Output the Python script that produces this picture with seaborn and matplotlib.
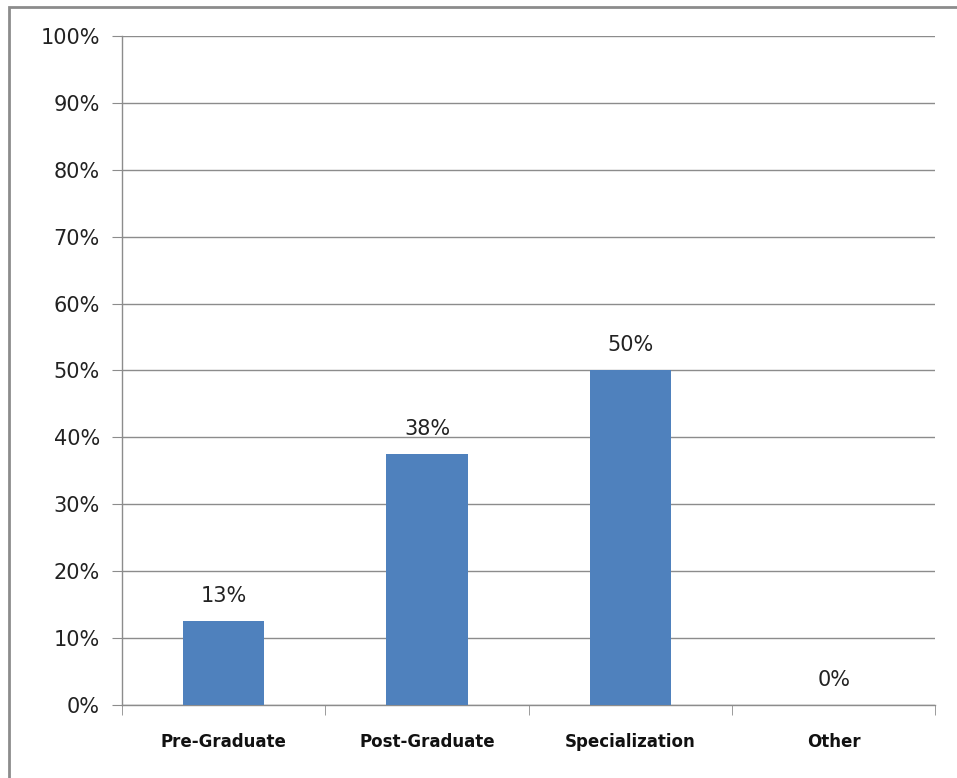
import pandas as pd
import seaborn as sns
import matplotlib.pyplot as plt
from matplotlib.patches import Rectangle
from matplotlib.ticker import PercentFormatter, MultipleLocator

# data
categories = ["Pre-Graduate", "Post-Graduate", "Specialization", "Other"]
shares = [12.5, 37.5, 50.0, 0.0]
labels = ["13%", "38%", "50%", "0%"]

df = pd.DataFrame({"Category": categories, "Share": shares})

sns.set_style("white")
plt.rcParams['font.family'] = ['DejaVu Sans']

fig = plt.figure(figsize=(9.57, 7.78), dpi=100)
ax = fig.add_axes([0.1275, 0.0938, 0.85, 0.86])

sns.barplot(data=df, x="Category", y="Share", color="#4F81BD", width=0.4,
            saturation=1, linewidth=0, ax=ax, zorder=3)

# percent labels over the bars
ax.bar_label(ax.containers[0], labels=labels, padding=11, fontsize=15, color="#222222")

ax.set_ylim(0, 100)
ax.set_xlim(-0.5, 3.5)
ax.yaxis.set_major_locator(MultipleLocator(10))
ax.yaxis.set_major_formatter(PercentFormatter(decimals=0))
ax.grid(axis="y", color="#8c8c8c", linewidth=1, zorder=0)
ax.set_axisbelow(True)

for s in ["top", "right"]:
    ax.spines[s].set_visible(False)
for s in ["left", "bottom"]:
    ax.spines[s].set_color("#8c8c8c")
    ax.spines[s].set_linewidth(1)

ax.tick_params(axis="y", length=7, color="#8c8c8c", direction="out", labelsize=15,
               labelcolor="#222222", pad=9, left=True)
# category ticks between the bars
ax.set_xticks([-0.5, 0.5, 1.5, 2.5, 3.5], minor=True)
ax.tick_params(axis="x", which="minor", length=7, color="#8c8c8c", direction="out", bottom=True)
ax.tick_params(axis="x", which="major", length=0, labelsize=12, pad=20)
for t in ax.get_xticklabels():
    t.set_fontweight("semibold")
    t.set_color("#111111")

ax.set_xlabel("")
ax.set_ylabel("")

# outer frame of the chart (only left and top edges fall inside the picture)
fig.patches.append(Rectangle((0.009, -0.2), 1.2, 1.191, transform=fig.transFigure,
                             fill=False, edgecolor="#8c8c8c", linewidth=2))

fig.savefig("out.png", dpi=100)
